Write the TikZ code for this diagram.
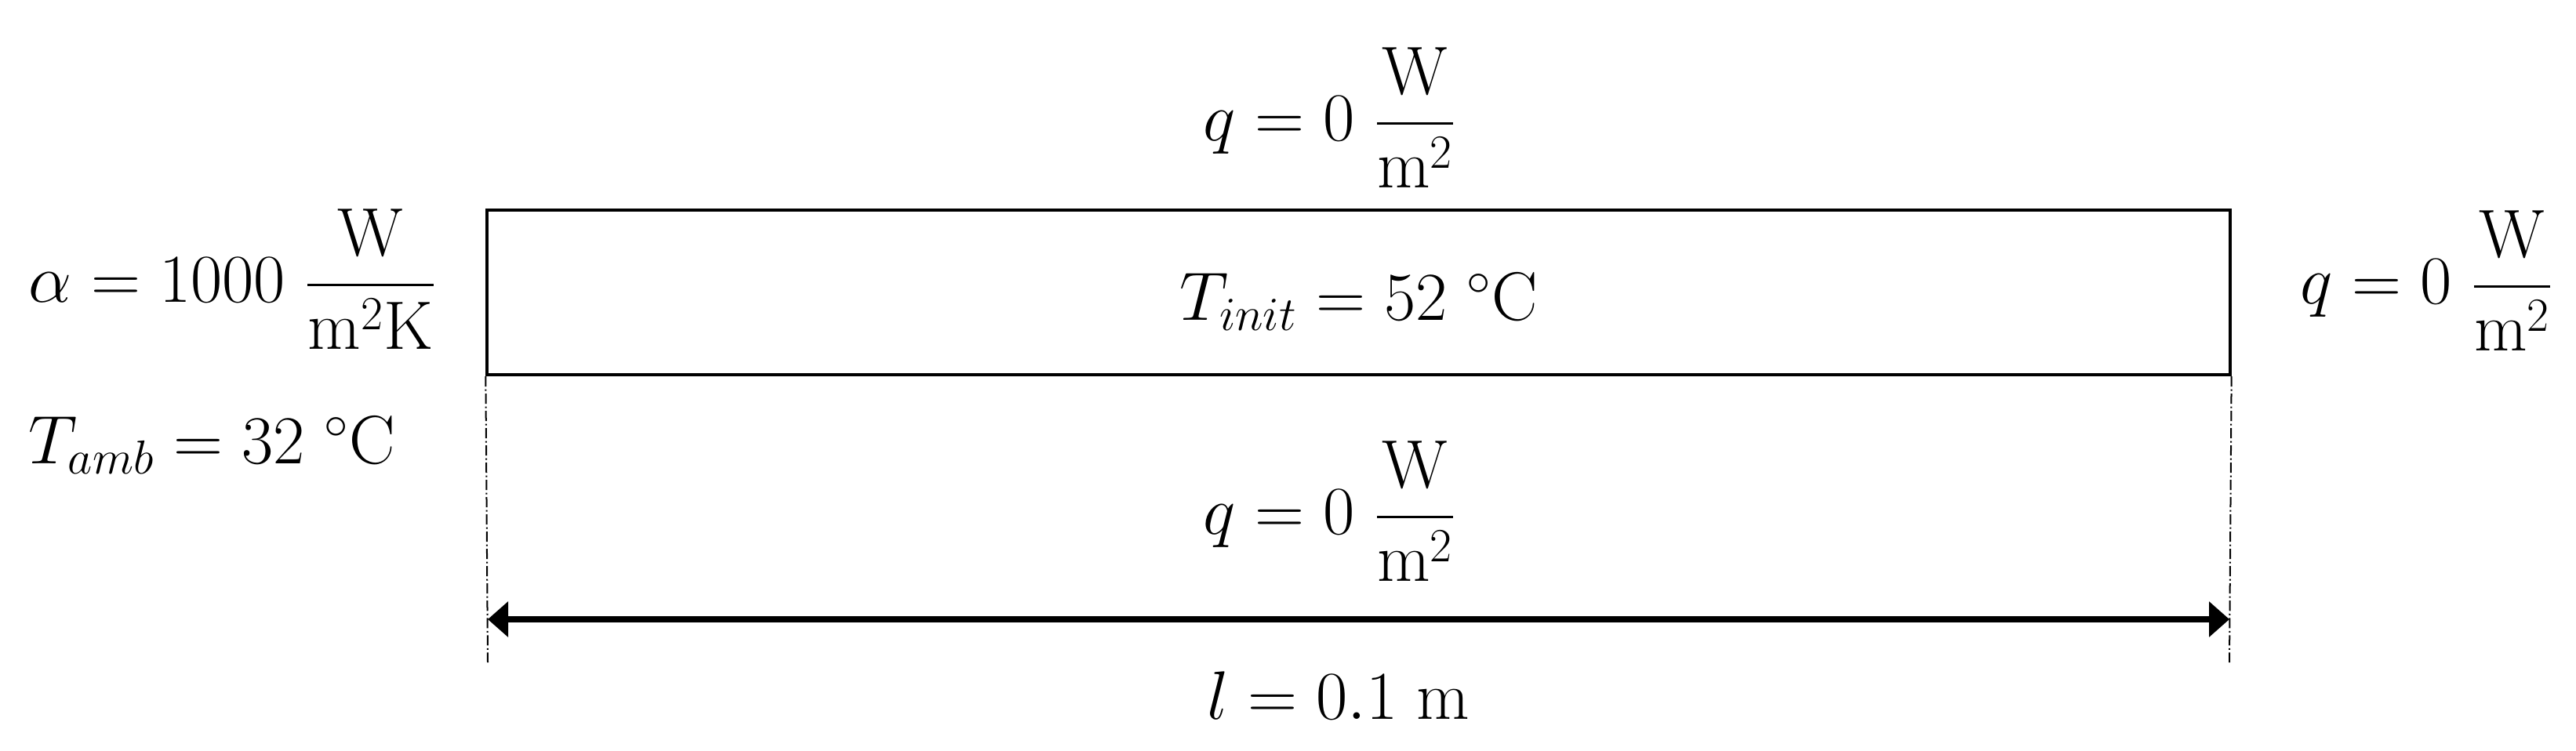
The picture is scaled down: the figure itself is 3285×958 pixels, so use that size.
\documentclass[tikz,border=0pt]{standalone}
\usepackage{amsmath}
\usetikzlibrary{arrows.meta}
\begin{document}
\begin{tikzpicture}[x=0.01cm,y=-0.01cm,
  lbl/.style={inner sep=0pt, font=\fontsize{23}{28}\selectfont},
  slabbox/.style={draw, line width=0.04cm, minimum width=22.21cm, minimum height=2.10cm, inner sep=0pt},
  guide/.style={line width=0.02cm, dash pattern=on 0.13cm off 0.035cm on 0.02cm off 0.035cm},
  dim/.style={line width=0.08cm, {Triangle[length=0.26cm,width=0.44cm]}-{Triangle[length=0.26cm,width=0.44cm]}}]
\useasboundingbox (0,0) rectangle (3285,958);
\node[slabbox] (slab) at (1732.5,373) {};
\node[lbl] (tinit) at (1733,385) {$T_{init} = 52\ {}^\circ\mathrm{C}$};
\node[lbl] (qtop) at (1696,150) {$\displaystyle q = 0\ \frac{\mathrm{W}}{\mathrm{m}^2}$};
\node[lbl] (qbot) at (1696,652) {$\displaystyle q = 0\ \frac{\mathrm{W}}{\mathrm{m}^2}$};
\node[lbl, anchor=west] (qright) at (2933,358) {$\displaystyle q = 0\ \frac{\mathrm{W}}{\mathrm{m}^2}$};
\node[lbl, anchor=west] (alpha) at (36,356) {$\displaystyle \alpha = 1000\ \frac{\mathrm{W}}{\mathrm{m}^2\mathrm{K}}$};
\node[lbl, anchor=west] (tamb) at (36,568) {$T_{amb} = 32\ {}^\circ\mathrm{C}$};
\node[lbl, anchor=base] (len) at (1707,917) {$l = 0.1\ \mathrm{m}$};
\coordinate (gl) at (622,845);
\coordinate (gr) at (2843,845);
\coordinate (al) at (622,790);
\coordinate (ar) at (2843,790);
\draw[guide] (slab.south west) -- (gl);
\draw[guide] (slab.south east) -- (gr);
\draw[dim] (al) -- (ar);
\end{tikzpicture}
\end{document}
